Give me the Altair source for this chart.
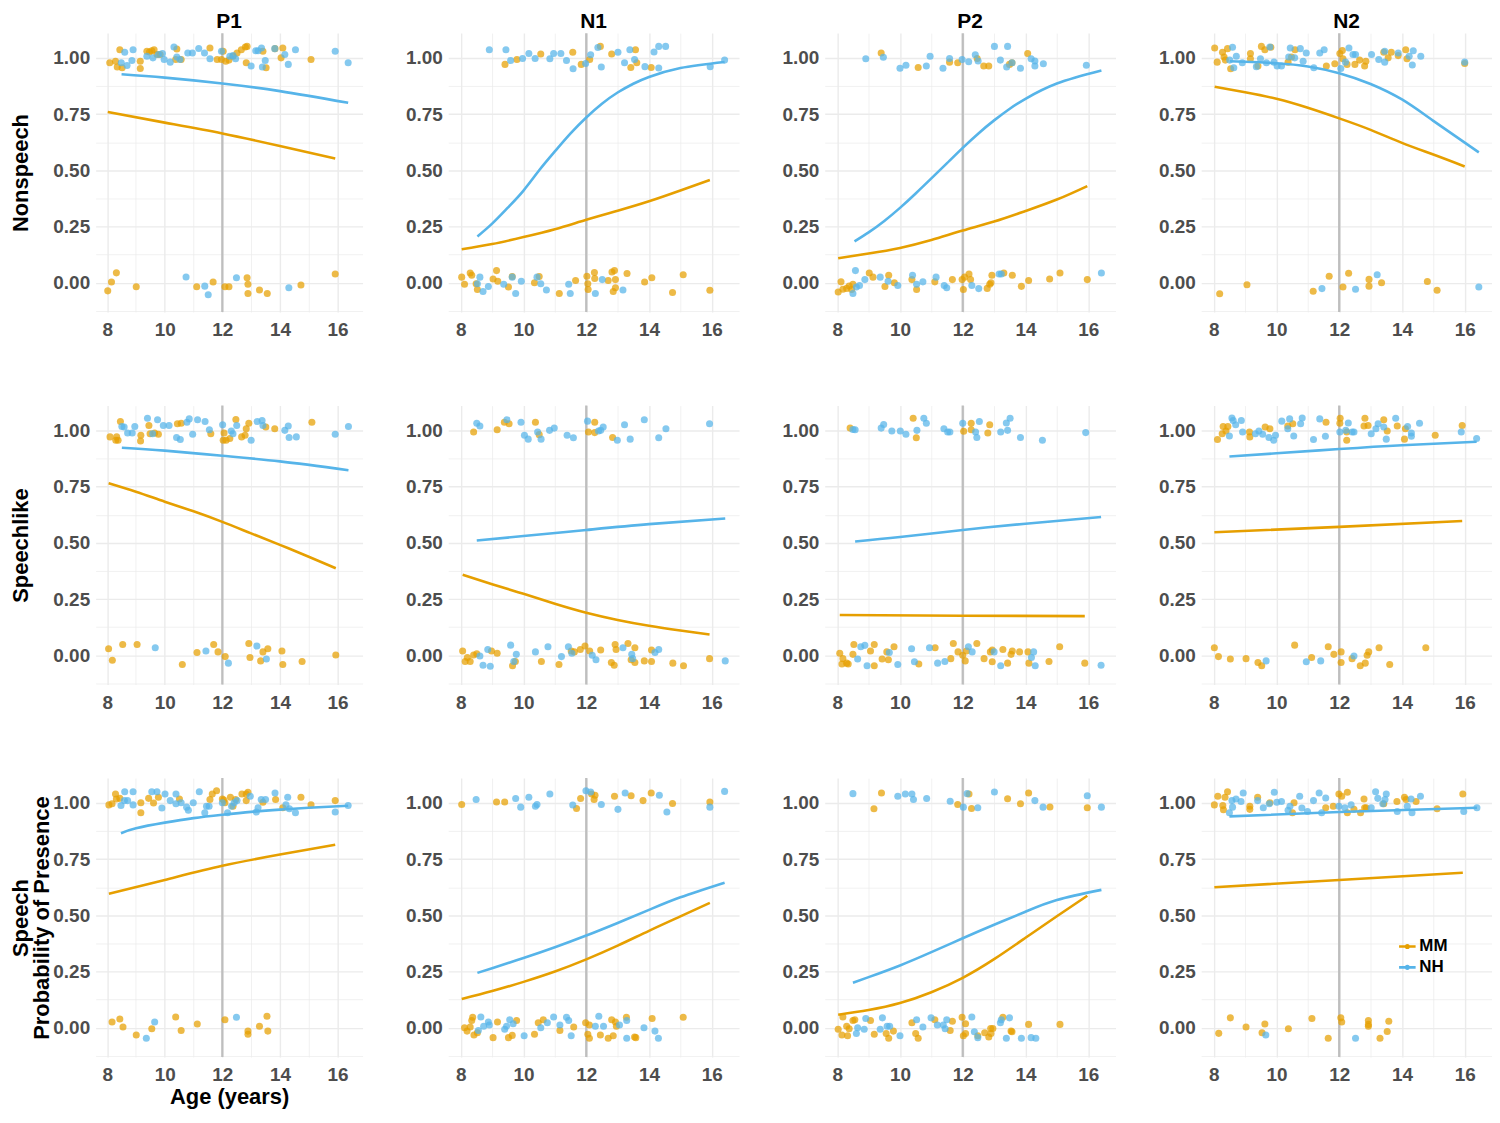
import altair as alt
import pandas as pd

ROWS = ["Nonspeech", "Speechlike", "Speech"]
COLS = ["P1", "N1", "P2", "N2"]
GROUPS = ["MM", "NH"]
ROW_TITLES = [["Nonspeech"], ["Speechlike"], ["Speech", "Probability of Presence"]]
X_TITLE = "Age (years)"
REF_AGE = 12
X_TICKS = [8, 9, 10, 11, 12, 13, 14, 15, 16]
Y_TICKS = [-0.125, 0, 0.125, 0.25, 0.375, 0.5, 0.625, 0.75, 0.875, 1.0]
X_DOMAIN = [7.6, 16.87]
Y_DOMAIN = [-0.13, 1.11]
COLORS = ["#E69F00", "#56B4E9"]

# ---------------- observed (jittered) points: (age, presence) ----------------
NS_P1_MM = [(8.09,0.978),(8.29,0.985),(8.44,1.036),(8.35,0.959),(8.52,0.956),(9.15,0.985),(9.15,0.953),(9.38,1.029),(9.47,1.026),(9.55,1.032),(9.63,1.036),(9.73,1.015),(9.84,1.015),(10.42,1.039),(10.38,0.993),(10.57,0.993),(11.57,1.044),(11.82,0.993),(11.97,0.993),(12.03,1.029),(12.12,0.985),(12.23,0.99),(12.37,1.007),(12.51,1.022),(12.66,1.036),(12.80,1.048),(12.83,0.978),(12.86,1.051),(13.41,1.029),(13.52,0.956),(13.83,1.041),(14.04,1.0),(14.10,1.044),(15.08,0.993),
             (8.02,-0.036),(8.15,0.003),(8.32,0.044),(9.01,-0.018),(11.11,-0.018),(11.68,0.003),(12.09,-0.018),(12.23,-0.018),(12.86,0.022),(12.89,-0.007),(12.89,-0.048),(13.29,-0.032),(13.56,-0.048),(14.73,-0.01),(15.92,0.039)]
NS_P1_NH = [(8.49,0.978),(8.61,1.025),(8.69,0.966),(8.86,0.988),(8.90,1.036),(9.38,1.007),(9.59,1.0),(9.78,1.015),(9.92,1.019),(9.98,0.993),(10.19,0.981),(10.32,1.048),(10.42,1.004),(10.53,0.993),(10.80,1.022),(10.96,1.022),(11.18,1.042),(11.38,1.022),(11.57,0.996),(11.97,1.029),(12.26,1.007),(12.37,1.01),(12.46,0.996),(13.0,0.964),(13.16,1.032),(13.24,1.032),(13.36,1.044),(13.39,0.959),(13.49,0.988),(13.82,1.041),(14.17,1.015),(14.29,0.971),(14.54,1.036),(15.92,1.029),(16.37,0.978),
             (10.74,0.026),(11.39,-0.015),(11.51,-0.053),(12.49,0.022),(14.31,-0.022)]

NS_N1_MM = [(9.41,0.971),(9.79,0.993),(10.55,1.017),(11.57,1.025),(11.84,0.971),(12.11,0.993),(12.45,1.051),(12.81,1.017),(13.42,0.957),(13.57,1.036),(13.61,0.978),(14.07,0.957),
             (8.03,0.025),(8.12,-0.007),(8.30,0.043),(8.35,0.033),(8.49,-0.004),(8.53,-0.03),(9.03,0.017),(9.14,0.054),(9.18,0.007),(9.52,-0.019),(9.64,0.028),(10.35,0.0),(10.50,0.028),(11.14,-0.048),(11.66,0.01),(12.02,0.029),(12.05,-0.004),(12.06,-0.03),(12.26,0.046),(12.27,0.019),(12.70,0.01),(12.82,0.048),(12.90,0.054),(12.93,0.014),(12.93,-0.022),(12.86,-0.039),(13.30,0.041),(13.86,0.003),(14.09,0.022),(14.75,-0.043),(15.09,0.036),(15.94,-0.033)]
NS_N1_NH = [(8.91,1.036),(9.44,1.036),(9.59,0.988),(9.97,0.997),(10.17,1.019),(10.37,0.997),(10.84,0.996),(10.96,1.019),(11.19,1.019),(11.37,0.988),(11.58,0.952),(11.98,0.975),(12.14,1.014),(12.37,1.046),(12.48,0.959),(13.01,1.025),(13.22,0.978),(13.39,1.036),(13.54,0.993),(13.87,0.961),(14.16,1.026),(14.31,1.051),(14.53,1.051),(14.31,0.955),(15.95,0.961),(16.41,0.99),
             (8.53,-0.004),(8.61,0.025),(8.71,-0.039),(8.88,-0.017),(9.37,-0.007),(9.64,0.025),(9.75,-0.048),(9.93,0.007),(10.43,0.025),(10.55,-0.004),(10.73,-0.032),(11.44,-0.007),(11.49,-0.048),(12.29,-0.048),(12.51,0.014),(13.17,-0.032)]

NS_P2_MM = [(9.40,1.022),(10.58,0.957),(11.58,0.981),(11.84,0.978),(12.46,0.997),(12.67,0.964),(12.83,0.964),(13.49,0.971),(13.57,0.978),(14.07,1.019),
             (8.03,-0.041),(8.12,0.004),(8.18,-0.029),(8.30,-0.025),(8.38,-0.014),(8.46,-0.03),(8.50,-0.007),(9.02,0.043),(9.14,0.025),(9.52,-0.017),(9.64,0.033),(9.82,0.0),(10.38,0.014),(10.53,-0.03),(11.11,0.004),(11.67,0.014),(11.98,0.014),(12.02,-0.03),(12.06,0.025),(12.20,0.039),(12.25,0.014),(12.78,-0.025),(12.86,-0.007),(12.90,0.0),(12.93,0.033),(13.31,0.043),(13.58,0.033),(13.87,-0.016),(14.10,0.01),(14.77,0.017),(15.10,0.043),(15.97,0.014)]
NS_P2_NH = [(8.91,0.996),(9.47,1.003),(10.0,0.954),(10.19,0.967),(10.84,0.964),(10.96,1.007),(11.37,0.954),(11.58,0.997),(11.98,0.993),(12.19,0.983),(12.40,1.014),(12.49,0.986),(13.01,1.051),(13.20,0.99),(13.43,1.051),(13.40,0.959),(13.57,0.978),(13.84,0.954),(14.18,0.996),(14.30,0.986),(14.30,0.964),(14.57,0.974),(15.94,0.967),
             (8.50,-0.048),(8.61,-0.019),(8.58,0.054),(8.71,-0.012),(8.88,0.014),(9.37,0.025),(9.62,0.007),(9.93,-0.012),(10.40,0.033),(10.53,-0.007),(10.73,0.004),(11.15,0.025),(11.41,-0.012),(11.49,-0.022),(12.29,-0.012),(12.51,-0.026),(13.16,0.039),(13.23,0.039),(16.42,0.043)]

NS_N2_MM = [(8.03,1.044),(8.11,0.981),(8.28,1.025),(8.33,1.004),(8.37,0.99),(8.44,1.041),(8.54,0.952),(9.17,1.019),(9.17,0.996),(9.41,0.964),(9.52,1.051),(9.63,1.036),(9.82,1.047),(10.37,0.981),(10.48,1.004),(10.59,1.036),(11.59,0.964),(11.86,0.974),(12.02,1.019),(12.10,1.033),(12.12,0.996),(12.25,0.971),(12.50,0.971),(12.65,0.99),(12.81,0.964),(12.85,0.985),(13.42,1.025),(13.56,1.0),(13.66,1.025),(13.88,1.01),(14.12,1.036),(14.16,0.996),(16.0,0.975),
             (8.19,-0.049),(9.06,-0.009),(11.17,-0.038),(11.68,0.029),(12.12,-0.019),(12.30,0.042),(12.95,0.015),(12.95,-0.015),(13.35,0.0),(14.81,0.006),(15.12,-0.033)]
NS_N2_NH = [(8.51,0.99),(8.60,1.047),(8.64,0.956),(8.72,1.007),(8.91,0.978),(9.36,0.961),(9.49,0.996),(9.68,0.978),(9.79,1.048),(9.92,0.981),(10.02,0.964),(10.16,0.964),(10.39,1.004),(10.44,1.044),(10.58,1.0),(10.76,1.041),(10.85,0.985),(10.95,1.022),(11.19,0.956),(11.38,1.022),(11.52,1.036),(12.05,0.953),(12.20,0.981),(12.31,1.044),(12.44,1.015),(12.52,1.015),(13.03,1.015),(13.26,0.993),(13.45,0.981),(13.45,1.029),(13.88,1.022),(14.23,1.007),(14.33,0.968),(14.36,1.032),(14.60,1.007),(16.0,0.981),
             (11.45,-0.026),(12.52,-0.029),(13.21,0.036),(16.45,-0.019)]

SL_P1_MM = [(8.10,0.971),(8.33,0.971),(8.30,0.956),(8.38,0.956),(8.46,1.039),(9.17,0.978),(9.16,0.953),(9.45,1.022),(9.49,0.985),(9.65,0.988),(9.78,0.983),(10.44,1.029),(10.57,1.032),(11.60,0.985),(12.03,0.956),(12.06,0.988),(12.13,0.956),(12.26,0.964),(12.47,1.048),(12.67,0.971),(12.79,0.978),(12.83,1.007),(12.92,1.032),(13.51,1.015),(13.82,1.007),(15.11,1.036),
             (8.05,0.029),(8.18,-0.022),(8.54,0.048),(9.04,0.048),(10.61,-0.041),(11.12,0.012),(11.70,0.048),(11.85,0.015),(12.10,-0.006),(12.92,0.052),(12.96,-0.01),(13.33,-0.025),(13.41,0.015),(13.58,0.029),(14.07,0.019),(14.10,-0.041),(14.77,-0.028),(15.94,0.001)]
SL_P1_NH = [(8.51,1.017),(8.59,1.015),(8.71,0.988),(8.87,0.988),(8.96,1.017),(9.40,1.054),(9.58,0.985),(9.75,1.047),(9.95,1.022),(10.15,1.022),(10.41,0.968),(10.54,0.959),(10.77,1.036),(10.85,1.051),(10.97,0.983),(11.14,1.047),(11.40,1.039),(11.55,1.003),(12.01,1.025),(12.31,0.997),(12.37,0.985),(12.50,1.022),(13.0,0.956),(13.21,1.039),(13.38,1.044),(13.41,1.022),(14.17,1.0),(14.29,1.019),(14.32,0.968),(14.57,0.971),(15.92,0.983),(16.38,1.017),
             (9.67,0.033),(11.43,0.019),(12.21,-0.035),(13.20,0.041),(13.53,-0.017)]

SL_N1_MM = [(8.41,0.993),(9.16,1.003),(9.39,1.036),(9.54,1.029),(10.38,1.036),(10.50,0.981),(12.07,0.993),(12.27,1.036),(12.27,0.99),(12.84,0.968),
             (8.06,0.019),(8.14,-0.028),(8.21,-0.01),(8.30,-0.028),(8.41,0.001),(8.51,0.007),(8.98,0.019),(9.16,0.009),(9.65,-0.047),(9.74,-0.028),(10.57,-0.028),(11.13,-0.041),(11.52,0.019),(11.62,0.015),(11.81,0.026),(11.96,0.041),(12.11,0.019),(12.46,0.023),(12.80,-0.032),(12.89,-0.044),(12.92,0.048),(12.95,0.026),(13.33,0.052),(13.43,-0.02),(13.55,-0.032),(13.55,0.033),(13.85,-0.025),(14.08,0.023),(14.08,-0.028),(14.76,-0.035),(15.10,-0.047),(15.93,-0.015)]
SL_N1_NH = [(8.51,1.032),(8.61,1.019),(9.47,1.047),(9.92,1.036),(10.03,0.978),(10.15,0.961),(10.45,0.993),(10.56,0.961),(10.83,1.0),(10.98,1.01),(11.39,0.978),(11.59,0.967),(12.04,1.041),(12.39,0.997),(12.46,1.0),(12.54,1.015),(12.99,0.956),(13.22,1.025),(13.40,0.961),(13.85,1.047),(14.31,0.967),(14.54,1.007),(15.93,1.029),
             (8.61,-0.003),(8.71,-0.044),(8.86,0.026),(8.94,-0.049),(9.59,0.045),(9.69,-0.028),(9.77,0.004),(10.38,0.015),(10.78,0.038),(11.21,-0.006),(11.43,0.038),(11.54,0.009),(12.19,0.0),(12.31,-0.02),(13.17,0.033),(13.45,0.004),(13.48,-0.015),(14.19,0.012),(14.31,0.026),(16.43,-0.025)]

SL_P2_MM = [(8.41,1.01),(10.42,1.054),(10.52,0.967),(12.03,0.996),(12.27,1.032),(12.27,1.003),(12.80,0.988),(12.86,1.025),
             (8.08,0.009),(8.18,-0.015),(8.15,-0.039),(8.30,-0.035),(8.35,-0.039),(8.53,0.048),(8.50,0.004),(9.06,0.019),(9.18,0.048),(9.18,-0.047),(9.43,-0.017),(9.58,0.015),(9.63,-0.02),(9.81,0.038),(10.60,-0.039),(11.12,0.033),(11.62,-0.015),(11.70,0.052),(11.85,0.015),(12.0,0.0),(12.08,-0.025),(12.12,0.019),(12.45,0.052),(12.68,-0.015),(12.88,0.015),(12.94,0.023),(12.94,-0.029),(13.28,0.026),(13.43,-0.035),(13.54,0.004),(13.58,0.019),(13.81,0.015),(14.08,0.015),(14.11,-0.035),(14.75,-0.028),(15.09,0.038),(15.89,-0.035)]
SL_P2_NH = [(8.50,1.004),(8.57,1.003),(9.40,1.01),(9.48,1.026),(9.74,0.997),(10.01,0.997),(10.19,0.983),(10.54,1.0),(10.76,1.054),(10.84,1.032),(11.40,1.007),(11.52,0.993),(11.59,0.993),(12.0,1.032),(12.41,0.993),(12.45,0.968),(12.53,1.039),(13.21,0.993),(13.39,1.033),(13.43,1.0),(13.51,1.054),(13.84,0.968),(14.54,0.956),(15.92,0.99),
             (8.65,-0.017),(8.75,0.038),(8.88,0.044),(8.95,-0.047),(9.66,0.012),(9.93,-0.041),(10.37,0.029),(10.46,-0.029),(10.94,0.033),(11.20,-0.035),(11.43,-0.028),(12.18,0.038),(12.30,0.015),(13.0,0.015),(13.21,-0.047),(14.19,-0.01),(14.26,0.015),(14.31,-0.047),(16.41,-0.044)]

SL_N2_MM = [(8.12,0.959),(8.27,0.985),(8.30,1.017),(8.45,1.017),(8.39,0.997),(9.14,0.993),(9.15,0.971),(9.64,1.015),(9.79,1.007),(10.36,1.019),(10.52,1.029),(11.58,1.036),(12.02,1.032),(12.03,1.054),(12.24,0.993),(12.24,0.956),(12.82,1.054),(12.79,1.019),(12.92,1.022),(13.42,1.047),(13.53,0.997),(13.85,1.019),(14.08,0.961),(14.11,1.007),(15.06,0.978),(15.92,1.022),
             (8.02,0.033),(8.15,-0.006),(8.53,-0.017),(9.03,-0.015),(9.41,-0.032),(9.53,-0.047),(10.58,0.045),(11.12,-0.01),(11.65,0.038),(11.83,0.004),(12.06,0.015),(12.06,-0.032),(12.41,-0.015),(12.67,-0.047),(12.83,-0.035),(12.89,0.0),(12.94,0.015),(13.27,0.033),(13.61,-0.041),(14.76,0.033)]
SL_N2_NH = [(8.50,0.975),(8.58,1.055),(8.62,1.044),(8.70,1.025),(8.88,1.044),(8.92,0.993),(9.33,0.985),(9.44,0.997),(9.56,0.983),(9.76,0.968),(9.91,0.956),(9.97,0.978),(10.17,1.041),(10.36,1.007),(10.42,1.051),(10.55,0.975),(10.77,1.029),(10.82,1.055),(11.18,0.959),(11.38,1.051),(11.56,0.974),(12.02,0.993),(12.21,1.0),(12.29,1.033),(12.41,0.993),(12.47,0.993),(13.02,0.985),(13.17,1.007),(13.24,1.029),(13.42,1.015),(13.50,0.961),(13.80,1.054),(14.18,1.017),(14.30,0.988),(14.30,0.974),(14.56,1.032),(15.89,0.993),(16.38,0.964),
             (9.67,-0.025),(10.95,-0.029),(11.41,-0.025),(12.47,-0.003)]

SP_P1_MM = [(8.06,0.991),(8.17,0.996),(8.32,1.017),(8.29,1.039),(8.44,1.02),(9.17,0.956),(9.17,1.0),(9.44,1.02),(9.61,0.999),(9.78,1.025),(10.51,1.017),(11.57,1.015),(11.65,1.039),(11.80,1.054),(12.0,1.017),(12.05,1.013),(12.09,1.0),(12.28,1.025),(12.37,0.985),(12.46,1.015),(12.68,1.039),(12.83,1.01),(12.83,1.039),(12.89,1.047),(13.41,1.003),(13.85,1.015),(14.10,0.978),(14.73,1.025),(15.08,0.991),(15.92,1.01),
             (8.17,0.026),(8.44,0.039),(8.55,0.003),(9.01,-0.032),(9.55,-0.004),(10.38,0.048),(10.57,-0.012),(11.13,0.017),(12.09,0.036),(12.89,-0.015),(12.89,-0.029),(13.29,0.007),(13.55,0.051),(13.58,-0.015)]
SP_P1_NH = [(8.48,0.988),(8.60,1.01),(8.61,1.049),(8.71,1.01),(8.90,0.991),(8.90,1.049),(9.55,1.049),(9.73,1.049),(9.90,0.977),(10.01,1.039),(10.19,1.01),(10.39,1.039),(10.39,0.996),(10.57,1.0),(10.76,0.981),(10.82,0.967),(10.99,1.0),(11.20,1.049),(11.39,0.956),(11.45,0.985),(11.54,0.985),(12.0,1.0),(12.18,0.956),(12.32,0.985),(12.41,1.0),(12.51,1.01),(12.97,1.029),(13.18,0.959),(13.24,0.978),(13.35,1.015),(13.50,1.015),(13.83,1.044),(14.21,0.991),(14.27,1.025),(14.33,0.974),(14.54,0.956),(15.92,0.959),(16.37,0.988),
             (9.36,-0.047),(9.65,0.026),(12.49,0.047)]

SP_N1_MM = [(8.03,0.993),(9.14,1.004),(9.40,1.004),(11.69,0.975),(11.82,1.019),(12.17,1.039),(12.25,1.015),(12.28,1.034),(12.90,1.029),(13.43,1.032),(13.81,1.01),(14.07,1.044),(14.75,0.997),(15.94,1.004),
             (8.12,0.0),(8.20,-0.015),(8.30,0.003),(8.35,0.032),(8.38,0.047),(8.42,-0.032),(8.53,-0.022),(9.03,-0.044),(9.17,0.026),(9.52,-0.044),(9.64,-0.034),(9.78,0.032),(10.35,-0.029),(10.47,0.022),(10.63,0.036),(11.16,-0.012),(11.60,0.003),(11.98,0.022),(12.05,-0.029),(12.10,-0.047),(12.10,0.012),(12.45,-0.032),(12.70,-0.047),(12.81,0.036),(12.86,-0.036),(12.93,0.026),(12.96,0.007),(13.28,0.047),(13.54,-0.041),(13.58,-0.044),(14.10,0.041),(15.09,0.047)]
SP_N1_NH = [(8.49,1.015),(9.75,1.019),(9.91,0.981),(10.17,1.025),(10.38,0.985),(10.43,0.993),(10.84,1.039),(11.57,0.99),(11.99,1.054),(12.14,1.048),(12.48,0.993),(13.01,0.971),(13.24,1.044),(14.33,1.034),(14.57,0.959),(15.94,0.981),(16.41,1.051),
             (8.56,-0.012),(8.64,0.048),(8.73,0.007),(8.88,0.026),(8.91,0.012),(9.40,-0.007),(9.46,0.007),(9.56,0.036),(9.67,0.018),(10.02,-0.036),(10.55,0.0),(10.76,0.022),(10.96,0.048),(11.16,0.012),(11.37,0.047),(11.44,0.032),(11.52,-0.036),(12.29,0.007),(12.40,0.051),(12.55,0.007),(13.06,0.012),(13.29,0.032),(13.29,-0.047),(13.84,0.0),(14.19,-0.015),(14.30,-0.047)]

SP_P2_MM = [(9.17,0.974),(9.41,1.044),(11.84,0.993),(12.20,1.039),(12.28,0.975),(13.43,1.018),(13.84,0.996),(14.10,1.044),(14.78,0.982),(15.97,0.978),
             (8.03,-0.007),(8.15,-0.032),(8.18,0.048),(8.30,0.007),(8.33,-0.036),(8.38,-0.004),(8.50,0.032),(8.56,0.036),(9.06,0.032),(9.18,-0.029),(9.56,-0.026),(9.64,-0.047),(9.79,-0.015),(10.38,0.022),(10.50,-0.026),(10.58,-0.047),(11.11,0.036),(11.60,-0.012),(11.67,0.029),(11.98,0.047),(12.02,-0.036),(12.09,-0.026),(12.09,0.018),(12.48,-0.036),(12.70,-0.022),(12.83,-0.041),(12.89,-0.003),(12.90,-0.026),(12.96,-0.003),(13.28,0.047),(13.54,-0.015),(13.57,-0.018),(14.10,0.015),(15.10,0.015)]
SP_P2_NH = [(8.50,1.041),(9.93,1.029),(10.17,1.039),(10.38,1.039),(10.43,1.015),(10.85,1.019),(11.60,1.007),(12.02,0.981),(12.14,1.041),(12.48,0.978),(13.01,1.048),(14.30,1.01),(14.56,0.981),(15.97,1.032),(16.42,0.981),
             (8.61,-0.026),(8.65,0.0),(8.91,0.041),(8.86,-0.007),(9.37,-0.007),(9.44,0.044),(9.59,0.007),(9.67,0.007),(10.0,-0.036),(10.53,0.036),(10.73,0.003),(10.99,0.044),(11.19,0.012),(11.38,0.012),(11.44,-0.004),(11.49,0.036),(12.29,0.048),(12.37,-0.018),(12.48,-0.044),(13.20,0.022),(13.23,0.036),(13.39,-0.047),(13.49,0.044),(13.87,-0.047),(14.18,-0.044),(14.33,-0.047)]

SP_N2_MM = [(8.02,0.991),(8.13,1.029),(8.29,0.988),(8.31,0.969),(8.36,1.025),(8.44,1.049),(9.15,0.985),(9.15,0.971),(9.40,1.025),(9.79,1.0),(10.51,0.956),(10.56,1.0),(11.57,0.978),(11.81,0.985),(11.99,1.039),(12.08,1.029),(12.26,1.047),(12.26,0.956),(12.47,0.971),(12.68,0.956),(12.79,1.017),(12.81,0.978),(12.86,0.978),(13.42,0.996),(13.84,1.006),(14.08,1.025),(14.13,1.015),(14.45,1.006),(15.12,0.974),(15.94,1.039),
             (8.16,-0.025),(8.53,0.044),(9.03,0.003),(9.54,-0.022),(9.63,0.017),(10.38,-0.004),(11.13,0.041),(11.65,-0.047),(12.05,0.044),(12.08,0.026),(12.93,0.032),(12.93,0.015),(12.93,0.007),(13.30,-0.047),(13.53,-0.017),(13.58,0.029)]
SP_N2_NH = [(8.50,0.956),(8.58,1.01),(8.60,0.981),(8.71,1.017),(8.87,1.006),(8.94,1.044),(9.40,1.01),(9.58,0.978),(9.77,0.996),(9.93,1.047),(10.01,1.003),(10.16,1.006),(10.37,0.967),(10.43,0.985),(10.74,1.029),(10.81,0.977),(10.99,0.962),(11.18,1.01),(11.36,1.044),(11.44,0.956),(11.57,1.022),(11.99,0.985),(12.18,0.978),(12.38,0.991),(13.02,0.978),(13.16,1.049),(13.23,1.02),(13.39,0.996),(13.46,1.015),(13.50,1.039),(13.85,0.962),(14.17,0.985),(14.29,1.017),(14.32,0.956),(14.59,1.029),(15.97,0.962),(16.39,0.978),
             (9.66,-0.032),(12.52,-0.047)]

# ---------------- fitted probability curves: (age, probability) ----------------
FIT_NS_P1_MM = [(8.02,0.759),(10,0.712),(12,0.664),(14,0.608),(15.92,0.552)]
FIT_NS_P1_NH = [(8.5,0.927),(10,0.912),(12,0.886),(14,0.852),(16.37,0.80)]
FIT_NS_N1_MM = [(8.03,0.149),(9,0.172),(10,0.203),(11,0.238),(12,0.28),(13,0.32),(14,0.362),(15,0.41),(15.94,0.457)]
FIT_NS_N1_NH = [(8.53,0.206),(9,0.263),(9.5,0.334),(10,0.41),(10.5,0.50),(11,0.584),(11.5,0.664),(12,0.735),(12.5,0.796),(13,0.846),(13.5,0.885),(14,0.915),(15,0.955),(16.41,0.982)]
FIT_NS_P2_MM = [(8.03,0.109),(9,0.13),(10,0.155),(11,0.19),(12,0.232),(13,0.272),(14,0.319),(15,0.37),(15.97,0.43)]
FIT_NS_P2_NH = [(8.55,0.184),(9,0.224),(9.5,0.275),(10,0.333),(10.5,0.397),(11,0.464),(11.5,0.532),(12,0.60),(12.5,0.664),(13,0.722),(13.5,0.774),(14,0.818),(15,0.886),(16.42,0.944)]
FIT_NS_N2_MM = [(8.03,0.872),(9,0.847),(10,0.818),(11,0.778),(12,0.731),(13,0.68),(14,0.622),(15,0.57),(16.0,0.517)]
FIT_NS_N2_NH = [(8.51,0.985),(9,0.983),(10,0.976),(11,0.962),(12,0.932),(13,0.884),(14,0.815),(15,0.72),(16.45,0.58)]
FIT_SL_P1_MM = [(8.05,0.765),(9,0.727),(10,0.683),(11,0.64),(12,0.593),(13,0.542),(14,0.491),(15,0.438),(15.94,0.387)]
FIT_SL_P1_NH = [(8.51,0.923),(10,0.91),(12,0.887),(14,0.862),(16.38,0.823)]
FIT_SL_N1_MM = [(8.06,0.358),(9,0.316),(10,0.273),(11,0.229),(12,0.189),(13,0.157),(14,0.131),(15,0.11),(15.93,0.092)]
FIT_SL_N1_NH = [(8.51,0.51),(10,0.53),(12,0.557),(14,0.583),(16.43,0.608)]
FIT_SL_P2_MM = [(8.08,0.179),(12,0.176),(15.89,0.174)]
FIT_SL_P2_NH = [(8.57,0.506),(10,0.526),(12,0.557),(14,0.585),(16.41,0.615)]
FIT_SL_N2_MM = [(8.02,0.547),(12,0.571),(15.92,0.597)]
FIT_SL_N2_NH = [(8.50,0.884),(10,0.898),(12,0.917),(14,0.934),(16.38,0.949)]
FIT_SP_P1_MM = [(8.06,0.596),(10,0.657),(12,0.72),(14,0.77),(15.92,0.814)]
FIT_SP_P1_NH = [(8.48,0.865),(9,0.887),(10,0.912),(11,0.932),(12,0.947),(13,0.96),(14,0.97),(15,0.978),(16.37,0.987)]
FIT_SP_N1_MM = [(8.03,0.128),(9,0.163),(10,0.204),(11,0.25),(12,0.304),(13,0.365),(14,0.431),(15,0.495),(15.94,0.555)]
FIT_SP_N1_NH = [(8.53,0.244),(9,0.265),(10,0.31),(11,0.358),(12,0.41),(13,0.466),(14,0.524),(15,0.58),(16.41,0.645)]
FIT_SP_P2_MM = [(8.03,0.058),(9,0.079),(10,0.11),(11,0.158),(12,0.222),(13,0.305),(14,0.40),(15,0.496),(15.97,0.587)]
FIT_SP_P2_NH = [(8.50,0.2),(9,0.225),(10,0.277),(11,0.336),(12,0.398),(13,0.458),(14,0.516),(15,0.568),(16.42,0.613)]
FIT_SP_N2_MM = [(8.02,0.625),(12,0.657),(15.94,0.689)]
FIT_SP_N2_NH = [(8.50,0.94),(12,0.959),(16.39,0.978)]

KEYS = {"Nonspeech": "NS", "Speechlike": "SL", "Speech": "SP"}
G = globals()


def frame(prefix, r, c):
    rows = []
    for g in GROUPS:
        for a, v in G[f"{prefix}{KEYS[r]}_{c}_{g}"]:
            rows.append({"age": a, "value": v, "group": g})
    return pd.DataFrame(rows)


H = 280
W_FIRST = 268
W_OTHER = 292
FONT = "Liberation Sans"

x_scale = alt.Scale(domain=X_DOMAIN, nice=False, zero=False)
y_scale = alt.Scale(domain=Y_DOMAIN, nice=False, zero=False)
col_scale = alt.Scale(domain=GROUPS, range=COLORS)

legend = alt.Legend(
    title=None, orient="none", legendX=197, legendY=159, direction="vertical",
    symbolType="M-1,0H1M0,-0.15A0.15,0.15,0,1,1,0,0.15A0.15,0.15,0,1,1,0,-0.15",
    symbolSize=276, symbolStrokeWidth=2.6, labelFont=FONT, labelFontSize=17,
    labelFontWeight="bold", labelColor="black", rowPadding=3, padding=0, labelOffset=2,
)

x_grid_w = {"condition": {"test": "datum.value % 2 == 0", "value": 1.4}, "value": 0.7}
y_grid_w = {"condition": {"test": "datum.value % 0.25 == 0", "value": 1.4}, "value": 0.7}


def panel(ri, ci):
    r, c = ROWS[ri], COLS[ci]
    w = W_FIRST if ci == 0 else W_OTHER
    xa = dict(values=X_TICKS, labelExpr="datum.value % 2 == 0 ? format(datum.value, 'd') : ''",
              gridWidth=x_grid_w, title=None)
    if ri == 2 and ci == 0:
        xa["title"] = X_TITLE
    ya = dict(values=Y_TICKS,
              labelExpr="datum.value >= 0 && datum.value % 0.25 == 0 ? format(datum.value, '.2f') : ''",
              gridWidth=y_grid_w, title=None)
    if ci == 0:
        ya.update(title=ROW_TITLES[ri], titleX=-85, titleY=H / 2, titleBaseline="top",
                  titleAlign="center", titleAngle=270, titleLineHeight=21)
    X = alt.X("age:Q", scale=x_scale, axis=alt.Axis(**xa))
    Y = alt.Y("value:Q", scale=y_scale, axis=alt.Axis(**ya))

    rule = alt.Chart(pd.DataFrame({"age": [REF_AGE]})).mark_rule(
        color="#BEBEBE", strokeWidth=2.3).encode(x=X)
    pts = alt.Chart(frame("", r, c)).mark_circle(size=50, opacity=0.72).encode(
        x=X, y=Y, fill=alt.Fill("group:N", scale=col_scale, legend=None))
    show_legend = (ri == 2 and ci == 3)
    fit = alt.Chart(frame("FIT_", r, c)).mark_line(strokeWidth=2.6, interpolate="natural").encode(
        x=X, y=Y, stroke=alt.Stroke("group:N", scale=col_scale, legend=legend if show_legend else None))
    ch = alt.layer(rule, pts, fit).properties(width=w, height=H)
    if ri == 0:
        ch = ch.properties(title=alt.TitleParams(c, fontSize=21, fontWeight="bold", color="black",
                                                 font=FONT, anchor="middle", offset=0))
    return ch


charts = [panel(ri, ci) for ri in range(3) for ci in range(4)]

chart = alt.concat(*charts, columns=4, spacing={"row": 94, "column": 86}, bounds="flush",
                   padding={"left": 2, "top": 0, "right": 0, "bottom": 0}).resolve_scale(
    fill="shared", stroke="shared").resolve_legend(stroke="independent").configure_view(
    strokeWidth=0).configure_axis(
    labelFont=FONT, labelFontSize=19, labelFontWeight="bold", labelColor="#4D4D4D",
    titleFont=FONT, titleFontSize=22, titleFontWeight="bold", titleColor="black",
    domain=False, ticks=False, tickSize=0, gridColor="#EBEBEB",
).configure_axisX(labelPadding=9, titlePadding=2).configure_axisY(labelPadding=6)

chart.save("out.html", embed_options={"renderer": "svg", "actions": False})
